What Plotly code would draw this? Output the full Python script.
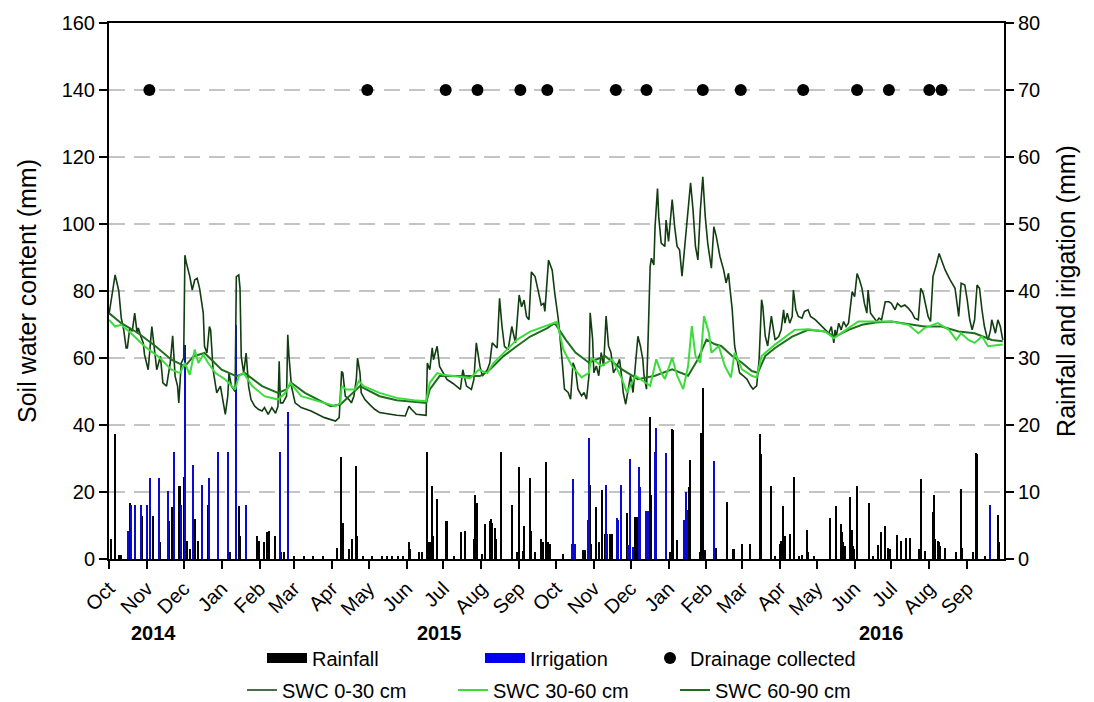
import pandas as pd
import plotly.graph_objects as go

# Days counted from the start of the monitoring period (1 Oct 2014)
START = pd.Timestamp("2014-10-01")

# Soil water content, 0-30 cm layer (mm)
swc_0_30_day = [0, 5, 8, 10, 12, 14, 15, 17, 19, 21, 23, 24, 26, 28, 29, 32, 35, 37, 39, 42, 44, 47, 50, 52, 54, 56, 57, 59, 61,
                62, 63, 66, 68, 70, 72, 74, 77, 78, 80, 82, 83, 85, 88, 91, 93, 95, 97, 98, 100, 103, 104, 106, 107, 108, 110,
                112, 114, 116, 119, 122, 125, 127, 130, 133, 136, 138, 139, 140, 142, 145, 146, 147, 149, 152, 157, 165, 176,
                181, 185, 188, 190, 191, 193, 196, 198, 200, 202, 203, 205, 206, 209, 213, 217, 221, 228, 235, 242, 245, 247,
                251, 259, 260, 262, 264, 265, 268, 270, 273, 276, 281, 287, 289, 292, 296, 298, 300, 303, 305, 309, 311, 313,
                317, 319, 321, 323, 326, 329, 332, 335, 337, 339, 341, 343, 345, 348, 351, 353, 355, 356, 359, 362, 364,
                367, 370, 372, 375, 377, 379, 381, 383, 386, 388, 390, 392, 393, 395, 396, 398, 400, 402, 404, 406, 408, 410,
                412, 415, 417, 419, 420, 422, 424, 426, 428, 430, 432, 434, 436, 437, 439, 440, 442, 443, 445, 446, 448, 449,
                451, 454, 455, 457, 460, 462, 464, 466, 468, 470, 473, 475, 477, 479, 481, 483, 485, 487, 489, 491, 492, 494,
                496, 499, 502, 504, 506, 507, 509, 511, 513, 515, 518, 521, 524, 526, 529, 531, 533, 534, 536, 538, 541,
                544, 547, 549, 551, 552, 554, 556, 558, 559, 561, 563, 566, 568, 571, 573, 577, 581, 585, 588, 590, 592, 593,
                594, 596, 598, 600, 602, 604, 605, 607, 609, 611, 613, 615, 617, 619, 620, 622, 624, 627, 629, 631, 634, 637,
                639, 642, 644, 647, 650, 653, 656, 658, 661, 663, 665, 667, 669, 671, 673, 676, 678, 680, 683, 687, 691, 693,
                694, 696, 699, 701, 703, 705, 707, 709, 711, 713, 715, 717, 718, 720, 721, 724, 726, 728, 730]
swc_0_30_mm = [73, 84.8, 80, 72, 68.4, 63, 63, 69, 68, 73.4, 67.4, 69, 66.4, 64.5, 61, 56.5, 69.4, 63.5, 56.5, 60.5, 52.6, 51.6,
               58.5, 66.6, 54.6, 51.6, 46.6, 58.5, 60,
               90.7, 88.7, 84.3, 80.3, 83.3, 83.8, 80.8, 73.4, 63.5, 61.5, 69.4, 68.4, 56.5, 49.6, 51.6, 47.6, 43.2, 48.6,
               55.5, 51.6, 50, 84.3, 84.8, 80.8, 60.5, 55.5,
               61.5, 51.6, 47.6, 45.6, 44.7, 44.2, 45.2, 43.2, 45.2, 43.5, 45.6, 59, 46.6, 46.6, 48.6, 66.9, 60.5, 51.6,
               46.6, 45.2, 44.2, 42.2,
               41.7, 41.2, 42.2, 56, 55.5, 48.6, 47.6, 46.6, 48.6, 53.6, 60, 55.5, 49.6, 47.6, 46.1, 44.7, 43.7, 43.2, 42.9,
               42.7, 45.6, 44.7,
               43.2, 42.9, 58.5, 56.5, 63, 59.5, 63.5, 57.5, 55.5, 53.6, 52.4, 50.6, 56.5, 51.6, 50.6, 53.6, 64.5, 57.5,
               54.6, 56.5, 58.5, 64.5,
               63, 77.8, 69.4, 63.5, 62.5, 69.4, 64.5, 78.8, 75.3, 77.3, 72.4, 71.4, 85.7, 84.3, 79.3, 75.8, 76.3, 73.9,
               89.2, 86.2, 79.6,
               71.5, 59.6, 50.7, 49.7, 47.7, 58.6, 56.6, 50.7, 48.7, 49.7, 47.7, 54.7, 73.5, 65.6, 55.6, 57.6, 54.7, 61.6,
               57.6, 72.5, 63.6, 61.6,
               55.6, 57.6, 59.6, 53.7, 49.7, 46.2, 50.7, 54.7, 49.7, 57.6, 66.5, 63.6, 59.6, 54.7, 50.7, 61.6, 87.3, 89.8,
               87.8, 99.2, 110.6, 102.2,
               94.3, 93.3, 101.2, 94.8, 107.3, 99.2, 93.3, 92.3, 84.4, 92.3, 104.2, 112.3, 104.2, 93.3, 89.3, 104.2, 114.1,
               102.2, 94.3, 89.3, 86.8, 99.2,
               96.3, 90.3, 86.3, 82.4, 85.3, 81.4, 74.5, 63.6, 59.6, 55.6, 54.7, 53.7, 51.7, 50.7, 51.7, 59.6, 77.4, 75.4,
               66.5, 63.6, 72.5,
               65.4, 66.4, 68.4, 74.4, 70.4, 73.4, 70.4, 72.4, 80.3, 74.4, 72.4, 71.9, 73.9, 74.4, 72.4, 71.4, 69.9, 68.4,
               67.4, 69.4, 64.5, 68.4,
               66.4, 70.4, 68.4, 70.9, 69.4, 70.4, 73.4, 79.8, 78.3, 85.2, 83.3, 80.8, 76.3, 73.4, 80.3, 73.4, 72.4, 70.9,
               71.9, 71.4, 76.8, 76.8,
               76.3, 74.4, 76.3, 75.3, 75.8, 74.8, 73.4, 71.9, 71.4, 80.8, 79.3, 75.3, 72.4, 70.9, 84.3, 88.2, 91.2, 89.2,
               86.2, 83.3, 80.8, 75.3,
               72.4, 82.3, 81.8, 77.3, 71.4, 68.4, 71.4, 81.8, 80.8, 74.4, 69.4, 66.4, 65.4, 68.4, 71.4, 67.4, 71.4, 69.4,
               65.4]

# Soil water content, 30-60 cm layer (mm)
swc_30_60_day = [0, 5, 10, 18, 29, 40, 51, 58, 62, 66, 70, 73, 77, 81, 87, 95, 103, 106, 110, 117, 127, 138, 144, 148, 157,
                 185, 189, 190, 194, 201, 204, 208, 221, 235, 249, 259, 262, 268, 273, 284, 295, 302, 309, 314, 322, 333,
                 344, 355, 363, 366, 371, 378, 386, 392, 394, 402, 411, 419, 423, 430, 438, 442, 447, 451, 454, 460, 464,
                 469, 473, 476, 479, 483, 486, 490, 492, 498, 503, 508, 511, 517, 525, 529, 533, 539, 544, 560, 571, 585,
                 592, 604, 612, 626, 639, 653, 661, 666, 677, 686, 692, 696, 702, 707, 713, 718, 730]
swc_30_60_mm = [71.4, 69.4, 69.9, 67.4, 63.5, 60.5, 56.5, 55.5, 58.5, 55, 62.5, 58.5, 61, 58.5, 55.5, 53.6, 50.6, 54.6, 55.5,
                51.6, 48.6, 47.6, 49.6, 52.6, 48.6,
                45.6, 46.6, 51.6, 50.6, 50.6, 53.1, 51.6, 49.6, 48.1, 47.4, 47.1, 52.6, 55.5, 55, 54.6, 54, 56.5, 55.5,
                58.5, 61.5, 65.4,
                67.9, 69.4, 70.6, 70.8, 62.6, 57.6, 54.2, 55.6, 60.1, 57.6, 59.6, 53.7, 49.7, 54.7, 52.7, 51.7, 59.6, 55.6,
                53.7, 60.1, 54.7,
                50.7, 57.6, 69.5, 60.6, 58.6, 72.5, 67.5, 61.6, 63.6, 57.6, 54.2, 61.6, 56.6, 54.7, 54.2, 60.6, 62.6, 64,
                68.4, 68.6, 67.9,
                65.9, 68.9, 70.9, 70.9, 70.9, 69.9, 67.4, 68.9, 70.4, 68.4, 65.4, 67.4, 65.4, 64.5, 66.4, 63.5, 64]

# Soil water content, 60-90 cm layer (mm)
swc_60_90_day = [0, 10, 24, 38, 51, 62, 69, 78, 92, 104, 111, 125, 138, 145, 149, 160, 181, 189, 205, 221, 235, 259, 262,
                 270, 289, 303, 311, 322, 333, 344, 358, 364, 373, 381, 392, 405, 419, 432, 446, 460, 473, 481, 488, 495,
                 500, 509, 517, 525, 530, 536, 544, 558, 571, 585, 593, 604, 615, 626, 639, 653, 666, 680, 694, 707, 721,
                 730]
swc_60_90_mm = [73.4, 70.4, 67.4, 63.5, 59.5, 57.5, 60.5, 61.5, 56.5, 54.6, 55.5, 51.6, 49.6, 50.6, 52.6, 49.6, 45.6, 46.1,
                51.6, 48.6, 47.4, 46.6, 50.6,
                54.6, 54.6, 54.6, 56.5, 60.5, 63.5, 66.4, 68.9, 70.5, 65.5, 61.6, 58.6, 60.6, 56.6, 53.7, 54.7, 56.6, 54.7,
                59.6, 65.5, 64.1,
                63.6, 60.6, 58.6, 56.1, 55.6, 60.6, 63, 66.4, 68.4, 67.9, 66.4, 68.4, 69.9, 70.6, 70.9, 70.2, 69.4, 69.4,
                67.9, 67.4, 65.4,
                65]

# Daily rainfall (mm)
rain_day = [2, 5, 8, 10, 17, 27, 36, 42, 49, 52, 57, 58, 61, 64, 66, 70, 73, 81, 99, 106, 107, 121, 123, 127, 129, 131, 136,
            141, 143, 151, 159, 167, 175, 186, 190, 191, 196, 199, 202, 203, 208, 215, 223, 227, 231, 236, 240, 245, 246,
            253, 256, 260, 261, 262, 264, 265, 268, 275, 276, 282, 288, 291, 298, 299, 301, 305, 307, 311, 312, 313, 315,
            316, 320, 329, 333, 335, 338, 339, 344, 345, 348, 353, 355, 357, 359, 360, 371, 387, 389, 393, 394, 398, 400,
            403, 405, 409, 411, 423, 430, 431, 442, 443, 458, 460, 461, 464, 474, 475, 483, 484, 485, 487, 496, 505, 510,
            511, 517, 524, 532, 533, 541, 544, 548, 549, 551, 552, 556, 560, 564, 566, 570, 571, 576, 589, 594, 598, 599,
            600, 601, 605, 607, 608, 609, 611, 621, 624, 628, 631, 634, 636, 637, 638, 644, 647, 651, 654, 662, 663, 667,
            673, 674, 675, 677, 678, 679, 683, 692, 696, 697, 706, 708, 709, 716, 726, 727]
rain_mm = [3.0, 18.6, 0.6, 0.6, 8.3, 6.4, 6.4, 2.5, 5.7, 7.7, 10.9, 10.9, 12.3, 2.7, 1.5, 5.9, 2.7, 8.1, 1.0, 7.9, 3.5, 3.5,
           2.7, 2.5, 4.0, 4.2, 3.5,
           1.0, 1.0, 0.4, 0.4, 0.4, 0.4, 1.7, 15.2, 5.4, 1.5, 3.0, 13.9, 3.5, 0.5, 0.5, 0.5, 0.5, 0.5, 0.5, 0.5, 2.5, 1.5,
           1.1, 1.0, 16.0, 2.5, 2.5, 10.9, 3.5, 8.9, 5.7, 5.7, 0.5, 4.0, 4.2, 3.0, 9.6, 8.4, 0.7, 5.2, 5.7, 5.9, 5.4, 4.7,
           3.0, 16.0, 8.1, 1.0, 13.8, 1.2, 4.9, 12.1, 4.2, 1.0, 3.0, 2.5, 14.5, 2.5, 2.2, 0.7, 1.3, 1.3, 11.0, 2.3, 7.8, 2.6,
           10.3, 3.8, 3.8, 3.8, 6.8, 6.3, 6.3, 21.2, 9.5, 1.1, 19.4, 19.2, 2.8, 10.8, 14.8, 1.1, 18.8, 25.5, 1.3, 1.7, 8.5, 1.5,
           1.5, 2.2, 2.2, 18.7, 15.7, 10.9, 0.5, 2.2, 2.7, 7.9, 3.5, 3.7, 12.2, 0.5, 0.6, 4.3, 1.0, 0.4, 6.1, 7.9, 5.2, 4.0,
           2.5, 2.0, 9.3, 4.4, 2.0, 1.5, 10.9, 8.4, 0.5, 2.1, 4.0, 4.9, 1.7, 1.5, 1.5, 3.6, 2.7, 3.1, 3.2, 1.5, 12.0, 1.2,
           7.0, 9.6, 3.0, 2.7, 2.5, 2.0, 1.6, 1.0, 10.5, 1.6, 1.0, 15.8, 15.6, 0.5, 6.5, 2.5]

# Irrigation events (mm)
irrig_day = [16, 18, 21, 26, 31, 34, 41, 48, 53, 59, 62, 69, 76, 82, 89, 97, 104, 112, 140, 146, 378, 379, 381, 391, 392,
             406, 407, 415, 416, 418, 424, 426, 428, 433, 434, 439, 440, 446, 447, 455, 470, 471, 472, 494, 720]
irrig_mm = [4.2, 8.1, 8.1, 8.1, 8.1, 12.1, 12.1, 10.1, 16.0, 8.1, 32.0, 14.1, 11.1, 12.1, 16.0, 16.0, 35.0, 8.1, 16.0, 22.0,
            2.3, 12.0, 2.3, 5.8, 18.0, 11.0, 3.8, 6.1, 5.8, 11.0, 2.1, 15.0, 1.8, 13.7, 10.8, 7.1, 7.1, 16.0, 19.5, 15.8,
            5.8, 10.0, 7.3, 14.7, 8.1]

# Dates on which drainage water was collected
drain_day = [33, 211, 275, 301, 336, 358, 414, 439, 485, 516, 567, 611, 637, 670, 680]
DRAIN_MARK = 140  # drawn on the soil-water axis as a marker row

# Year captions under the month labels
year_labels = ["2014", "2015", "2016"]
year_label_day = [36, 270, 631]

month_ticks = pd.date_range("2014-10-01", "2016-09-01", freq="MS")


def to_dates(days):
    return START + pd.to_timedelta(days, unit="D")


FONT = "Arial, Liberation Sans, sans-serif"
BAR_W = 1.1 * 86400000  # bar width in ms
RAIN_COLOR = "#000000"
IRRIG_COLOR = "#0a0ad0"

fig = go.Figure()

# Rainfall and irrigation on the right-hand axis (primary y, placed on the right)
fig.add_trace(go.Bar(x=to_dates(rain_day), y=rain_mm, name="Rainfall", width=BAR_W, showlegend=False,
                     marker=dict(color=RAIN_COLOR, line=dict(width=0)), yaxis="y"))
fig.add_trace(go.Bar(x=to_dates(irrig_day), y=irrig_mm, name="Irrigation", width=BAR_W, showlegend=False,
                     marker=dict(color=IRRIG_COLOR, line=dict(width=0)), yaxis="y"))

# Wide filled swatches for the bar series in the legend
fig.add_trace(go.Scatter(x=[None], y=[None], name="Rainfall", mode="lines",
                         line=dict(color=RAIN_COLOR, width=17), legend="legend"))
fig.add_trace(go.Scatter(x=[None], y=[None], name="Irrigation", mode="lines",
                         line=dict(color="#0000ee", width=17), legend="legend2"))

# Soil water content on the left-hand axis (overlaying, so drawn above the bars)
fig.add_trace(go.Scatter(x=to_dates(swc_0_30_day), y=swc_0_30_mm, name="SWC 0-30 cm", mode="lines",
                         line=dict(color="#113d11", width=1.6), yaxis="y2", legend="legend4"))
fig.add_trace(go.Scatter(x=to_dates(swc_60_90_day), y=swc_60_90_mm, name="SWC 60-90 cm", mode="lines",
                         line=dict(color="#1f6e1f", width=2), yaxis="y2", legend="legend6"))
fig.add_trace(go.Scatter(x=to_dates(swc_30_60_day), y=swc_30_60_mm, name="SWC 30-60 cm", mode="lines",
                         line=dict(color="#3ddc3d", width=2), yaxis="y2", legend="legend5"))
fig.add_trace(go.Scatter(x=to_dates(drain_day), y=[DRAIN_MARK] * len(drain_day), name="Drainage collected",
                         mode="markers", marker=dict(color="#000000", size=12), yaxis="y2", legend="legend3"))


def legend_at(x_px, y_px, itemwidth=30):
    # positioned against the whole page so the legends do not resize the plot area
    return dict(x=x_px / 1094, y=1 - y_px / 702, xref="container", yref="container",
                xanchor="left", yanchor="middle", orientation="h", itemwidth=itemwidth,
                bgcolor="rgba(0,0,0,0)", borderwidth=0, font=dict(family=FONT, size=20, color="#000000"))


fig.update_layout(
    width=1094, height=702,
    margin=dict(l=109, r=90, t=23, b=143, autoexpand=False),
    paper_bgcolor="#ffffff", plot_bgcolor="#ffffff",
    font=dict(family=FONT, size=20, color="#000000"),
    barmode="overlay", bargap=0,
    showlegend=True,
    legend=legend_at(262, 658, itemwidth=40),
    legend2=legend_at(480, 658, itemwidth=40),
    legend3=legend_at(650, 658),
    legend4=legend_at(242, 690),
    legend5=legend_at(453, 690),
    legend6=legend_at(675, 690),
    xaxis=dict(
        type="date", range=[START, to_dates([731])[0]],
        tickvals=month_ticks, tickformat="%b", tickangle=-45,
        ticks="outside", ticklen=8, tickwidth=1.5, tickcolor="#000000",
        showline=True, linecolor="#000000", linewidth=2, mirror=True,
        showgrid=False, zeroline=False, tickfont=dict(size=20),
    ),
    yaxis=dict(
        side="right", range=[0, 80], dtick=10,
        ticks="outside", ticklen=8, tickwidth=1.5, tickcolor="#000000",
        showline=True, linecolor="#000000", linewidth=2,
        showgrid=True, gridcolor="#c4c4c4", gridwidth=2, griddash="16px,9px",
        zeroline=False, tickfont=dict(size=20),
        title=dict(text="Rainfall and irigation (mm)", font=dict(size=25), standoff=18),
    ),
    yaxis2=dict(
        overlaying="y", side="left", range=[0, 160], dtick=20,
        ticks="outside", ticklen=8, tickwidth=1.5, tickcolor="#000000",
        showline=True, linecolor="#000000", linewidth=2,
        showgrid=False, zeroline=False, tickfont=dict(size=20),
        title=dict(text="Soil water content (mm)", font=dict(size=25), standoff=18),
    ),
)

for label, day in zip(year_labels, year_label_day):
    fig.add_annotation(x=to_dates([day])[0], y=-0.138, xref="x", yref="paper", text=f"<b>{label}</b>",
                       showarrow=False, font=dict(family=FONT, size=20, color="#000000"),
                       xanchor="center", yanchor="middle")

fig.write_html("out.html")
